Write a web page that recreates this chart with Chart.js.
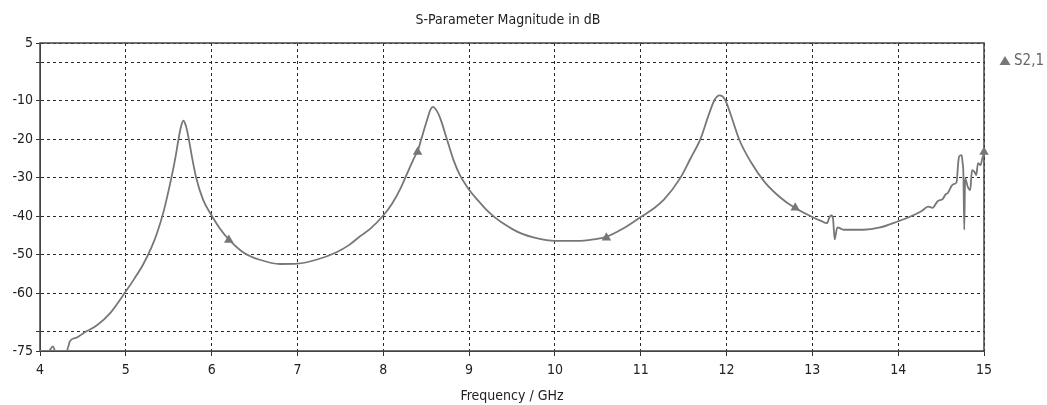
<!DOCTYPE html>
<html>
<head>
<meta charset="utf-8">
<script src="https://cdn.jsdelivr.net/npm/chart.js@4"></script>
<style>
  body { margin: 0; background: #fff; }
  #wrap { width: 1047px; height: 405px; }
</style>
</head>
<body>
<div id="wrap"><canvas id="sparam-chart" width="1047" height="405"></canvas></div>
<script>
// S2,1 magnitude (dB)
const freqGHz = [
  4.00, 4.10, 4.15, 4.18, 4.25, 4.31, 4.35, 4.43, 4.51, 4.66, 4.82, 5.00, 5.10, 5.20, 5.30,
  5.36, 5.44, 5.53, 5.58, 5.61, 5.64, 5.67, 5.70, 5.73, 5.77, 5.82, 5.90, 6.00, 6.10, 6.20,
  6.37, 6.56, 6.80, 7.00, 7.22, 7.45, 7.60, 7.73, 7.85, 8.00, 8.10, 8.20, 8.28, 8.35, 8.41,
  8.44, 8.51, 8.55, 8.58, 8.62, 8.66, 8.75, 8.82, 8.89, 9.00, 9.10, 9.20, 9.30, 9.40, 9.51,
  9.62, 9.75, 10.00, 10.26, 10.45, 10.59, 10.80, 11.00, 11.15, 11.27, 11.46, 11.58, 11.70, 11.79, 11.86,
  11.92, 11.98, 12.05, 12.15, 12.28, 12.44, 12.63, 12.78, 13.00, 13.10, 13.17, 13.20, 13.22, 13.24, 13.26,
  13.29, 13.33, 13.36, 13.59, 13.79, 14.00, 14.15, 14.27, 14.35, 14.40, 14.46, 14.52, 14.55, 14.58, 14.62,
  14.64, 14.68, 14.70, 14.71, 14.74, 14.75, 14.76, 14.77, 14.78, 14.81, 14.84, 14.86, 14.89, 14.91, 14.93,
  14.96, 14.98, 15.00
];
const s21dB = [
  -75, -75, -73.8, -75, -75, -75, -72.4, -71.5, -70.3, -68.4, -65.1, -59.5, -56.2, -52.6, -48.0,
  -44.6, -38.8, -30.1, -24.5, -20.5, -17, -15.2, -16.5, -19.5, -24.5, -30, -35.7, -39.8, -43.3, -46.0,
  -49.4, -51.3, -52.4, -52.3, -51.3, -49.4, -47.5, -45.2, -43.2, -39.8, -36.8, -32.8, -28.8, -25.3, -22.5,
  -20.2, -15.0, -12.3, -11.6, -12.5, -14.3, -20.6, -25.5, -29.2, -33.1, -35.8, -38.3, -40.3, -41.9, -43.4,
  -44.6, -45.5, -46.4, -46.4, -46.0, -45.4, -43.1, -40.2, -38.0, -35.7, -30.1, -25.0, -19.7, -13.8, -9.8,
  -8.6, -9.6, -13.7, -20.2, -25.8, -31.0, -35.2, -37.6, -40.2, -41.2, -41.8, -40.2, -39.8, -40.5, -46.0,
  -42.9, -43.2, -43.5, -43.5, -42.9, -41.3, -40.0, -38.7, -37.5, -37.8, -36.1, -35.5, -34.4, -33.9, -32.2,
  -31.7, -31.2, -26.0, -24.5, -24.1, -26.0, -29.0, -43.5, -30.1, -32.3, -33.2, -28.0, -28.5, -29.3, -26.2,
  -26.7, -25.0, -23.6
];

// triangle markers along the trace
const markerFreq = [6.2, 8.4, 10.6, 12.8, 15.0];
const markerDb = [-46.2, -23.3, -45.6, -37.8, -23.3];

const yTicks = [5, 0, -10, -20, -30, -40, -50, -60, -70, -75];
const hiddenYLabels = [0, -70];

const chartTitle = 'S-Parameter Magnitude in dB';
const seriesName = 'S2,1';

const traceColor = '#777777';
const gridColor = '#2a2a2a';
const fontFamily = '"DejaVu Sans Condensed", "DejaVu Sans", sans-serif';

// solid frame round the plot area
const framePlugin = {
  id: 'frame',
  beforeDatasetsDraw(chart) {
    const { ctx, chartArea: a } = chart;
    ctx.save();
    ctx.strokeStyle = '#444';
    ctx.lineWidth = 1.5;
    ctx.setLineDash([]);
    ctx.strokeRect(a.left, a.top, a.right - a.left, a.bottom - a.top);
    ctx.restore();
  }
};

// title and legend entry (title sits a bit right of the plot centre, like the original)
const annotations = {
  id: 'annotations',
  afterDraw(chart) {
    const ctx = chart.ctx;
    ctx.save();
    ctx.fillStyle = '#222';
    ctx.font = '14px ' + fontFamily;
    ctx.textAlign = 'center';
    ctx.textBaseline = 'middle';
    ctx.fillText(chartTitle, 508, 20);

    const x = 1005, y = 61;
    ctx.fillStyle = traceColor;
    ctx.beginPath();
    ctx.moveTo(x, y - 5);
    ctx.lineTo(x + 5.5, y + 4);
    ctx.lineTo(x - 5.5, y + 4);
    ctx.closePath();
    ctx.fill();
    ctx.fillStyle = '#666';
    ctx.font = '15px ' + fontFamily;
    ctx.textAlign = 'left';
    ctx.fillText(seriesName, x + 9, y);
    ctx.restore();
  }
};

const ctx = document.getElementById('sparam-chart').getContext('2d');
new Chart(ctx, {
  type: 'line',
  data: {
    datasets: [
      {
        label: seriesName,
        data: freqGHz.map((f, i) => ({ x: f, y: s21dB[i] })),
        borderColor: traceColor,
        borderWidth: 1.8,
        pointRadius: 0,
        cubicInterpolationMode: 'monotone',
        fill: false
      },
      {
        label: seriesName + ' markers',
        data: markerFreq.map((f, i) => ({ x: f, y: markerDb[i] })),
        showLine: false,
        pointStyle: 'triangle',
        pointRadius: 5.5,
        backgroundColor: traceColor,
        borderColor: traceColor,
        borderWidth: 0,
        clip: false
      }
    ]
  },
  options: {
    responsive: false,
    animation: false,
    layout: { padding: { left: 0, right: 63, top: 43, bottom: 0 } },
    plugins: {
      legend: { display: false },
      tooltip: { enabled: false },
      title: { display: false }
    },
    scales: {
      x: {
        type: 'linear',
        min: 4,
        max: 15,
        ticks: { stepSize: 1, color: '#222', font: { family: fontFamily, size: 14 }, padding: 6, maxRotation: 0 },
        grid: { color: gridColor, tickColor: '#333', tickLength: 5, tickBorderDash: [] },
        border: { dash: [3, 3], color: '#444' },
        title: {
          display: true,
          text: 'Frequency / GHz',
          color: '#222',
          font: { family: fontFamily, size: 14 },
          padding: { top: 0, bottom: 0 }
        },
        afterFit(scale) { scale.height = 54; }
      },
      y: {
        type: 'linear',
        min: -75,
        max: 5,
        afterBuildTicks(scale) {
          scale.ticks = yTicks.map(v => ({ value: v }));
        },
        ticks: {
          color: '#222',
          font: { family: fontFamily, size: 14 },
          padding: 3,
          callback: v => (hiddenYLabels.includes(v) ? '' : v)
        },
        grid: { color: gridColor, tickColor: '#333', tickLength: 4, tickBorderDash: [] },
        border: { dash: [3, 3], color: '#444' },
        afterFit(scale) { scale.width = 40; }
      }
    }
  },
  plugins: [framePlugin, annotations]
});
</script>
</body>
</html>
